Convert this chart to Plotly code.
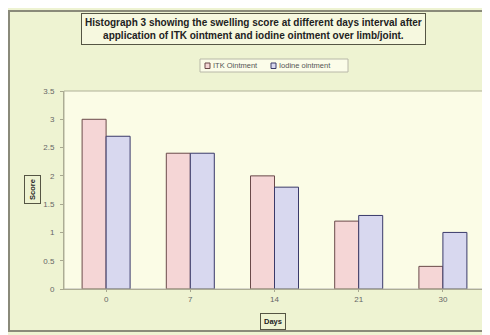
import plotly.graph_objects as go

days = ["0", "7", "14", "21", "30"]
itk_scores = [3.0, 2.4, 2.0, 1.2, 0.4]
iodine_scores = [2.7, 2.4, 1.8, 1.3, 1.0]
y_ticks = [0, 0.5, 1, 1.5, 2, 2.5, 3, 3.5]
y_tick_labels = ["0", "0.5", "1", "1.5", "2", "2.5", "3", "3.5"]
series_names = ["ITK Ointment", "Iodine ointment"]

W, H = 490, 335
OFF = 8  # default page body margin shifts the figure by 8px
# target window-pixel geometry of the plot area
WIN_L, WIN_R, WIN_T, WIN_B = 64, 485, 91, 289
L, T = WIN_L - OFF, WIN_T - OFF
R, B = W - (WIN_R - OFF), H - (WIN_B - OFF)
pw, ph = W - L - R, H - T - B

def px(x):
    return (x - OFF - L) / pw

def py(y):
    return 1 - (y - OFF - T) / ph

FONT = "Liberation Sans, Arial, sans-serif"
ITK_FILL, ITK_LINE = "#f5d6d6", "#6a4a4a"
IOD_FILL, IOD_LINE = "#d8d8ef", "#3a3a6a"

fig = go.Figure()
fig.add_trace(go.Bar(
    name=series_names[0], x=days, y=itk_scores,
    marker=dict(color=ITK_FILL, line=dict(color=ITK_LINE, width=1)),
))
fig.add_trace(go.Bar(
    name=series_names[1], x=days, y=iodine_scores,
    marker=dict(color=IOD_FILL, line=dict(color=IOD_LINE, width=1)),
))

fig.update_layout(
    width=W, height=H,
    margin=dict(l=L, r=R, t=T, b=B, autoexpand=False),
    paper_bgcolor="#eef3d2",
    plot_bgcolor="#fbfce6",
    barmode="group", bargap=0.43, bargroupgap=0,
    font=dict(family=FONT, size=8, color="#555555"),
    showlegend=False,
    xaxis=dict(
        showline=True, linecolor="#a8a890", linewidth=1,
        ticks="outside", ticklen=2, tickcolor="#a8a890",
        tickfont=dict(size=8, color="#666666"), showgrid=False,
    ),
    yaxis=dict(
        range=[0, 3.5], tickvals=y_ticks, ticktext=y_tick_labels,
        showline=True, linecolor="#a8a890", linewidth=1,
        ticks="outside", ticklen=3, tickcolor="#a8a890", ticklabelstandoff=4,
        tickfont=dict(size=8, color="#666666"), showgrid=False,
    ),
    shapes=[
        dict(type="rect", xref="paper", yref="paper",
             x0=px(9), x1=px(500), y0=py(331), y1=py(11),
             line=dict(color="#8a8a7a", width=2), layer="below"),
        dict(type="rect", xref="paper", yref="paper",
             x0=0, x1=1, y0=0, y1=1,
             line=dict(color="#b0b098", width=1), layer="above"),
        # legend box
        dict(type="rect", xref="paper", yref="paper",
             x0=px(200), x1=px(348), y0=py(72), y1=py(59),
             line=dict(color="#b8b8a8", width=1), fillcolor="#fbfce9", layer="above"),
        dict(type="rect", xref="paper", yref="paper",
             x0=px(205), x1=px(210), y0=py(68.5), y1=py(63),
             line=dict(color=ITK_LINE, width=1), fillcolor=ITK_FILL, layer="above"),
        dict(type="rect", xref="paper", yref="paper",
             x0=px(271), x1=px(276), y0=py(68.5), y1=py(63),
             line=dict(color=IOD_LINE, width=1), fillcolor=IOD_FILL, layer="above"),
    ],
    annotations=[
        dict(text="<b>Histograph 3 showing the swelling score at different days interval after<br>application of ITK ointment and iodine ointment over limb/joint.</b>",
             xref="paper", yref="paper", x=px(253), y=py(29), xanchor="center", yanchor="middle",
             showarrow=False, font=dict(size=10, color="#222222", family=FONT),
             bordercolor="#555544", borderwidth=1, borderpad=3, bgcolor="#f6f8df",
             align="center"),
        dict(text=series_names[0], xref="paper", yref="paper", x=px(211), y=py(65.5),
             xanchor="left", yanchor="middle", showarrow=False,
             font=dict(size=7.5, color="#555555", family=FONT)),
        dict(text=series_names[1], xref="paper", yref="paper", x=px(277), y=py(65.5),
             xanchor="left", yanchor="middle", showarrow=False,
             font=dict(size=7.5, color="#555555", family=FONT)),
        dict(text="<b>Score</b>", textangle=-90,
             xref="paper", yref="paper", x=px(32), y=py(190), xanchor="center", yanchor="middle",
             showarrow=False, font=dict(size=7.5, color="#222222", family=FONT),
             bordercolor="#555544", borderwidth=1, borderpad=3),
        dict(text="<b>Days</b>",
             xref="paper", yref="paper", x=px(273), y=py(321), xanchor="center", yanchor="middle",
             showarrow=False, font=dict(size=7.5, color="#222222", family=FONT),
             bordercolor="#555544", borderwidth=1, borderpad=3),
    ],
)

fig.write_html("out.html")
